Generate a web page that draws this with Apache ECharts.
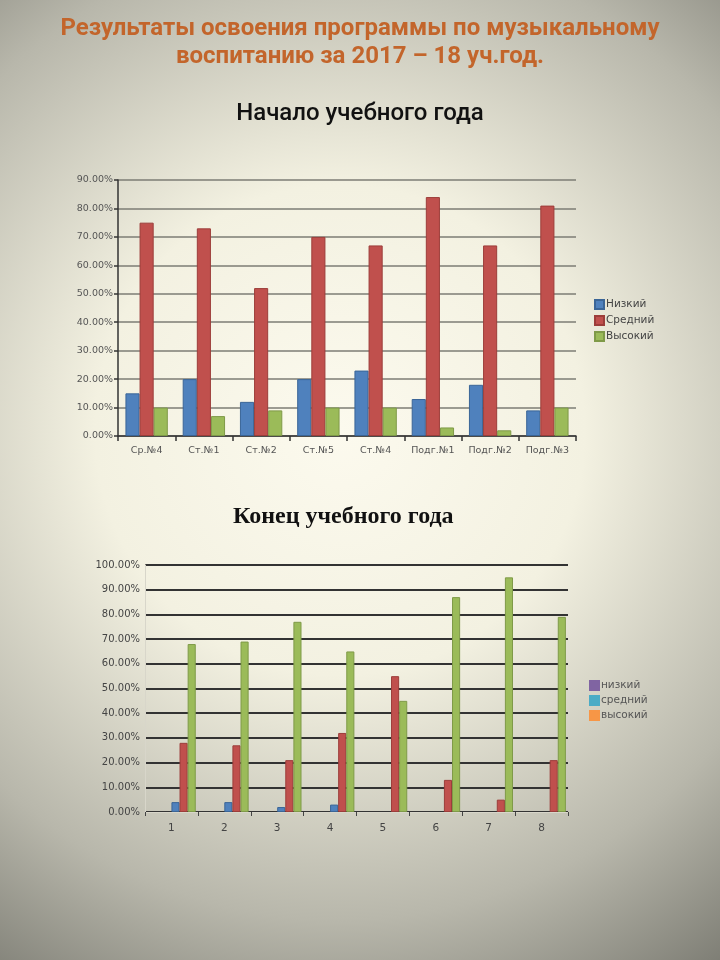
<!DOCTYPE html>
<html>
<head>
<meta charset="utf-8">
<script src="https://cdn.jsdelivr.net/npm/echarts@6/dist/echarts.min.js"></script>
<style>
html,body{margin:0;padding:0;width:720px;height:960px;overflow:hidden;}
#chart{width:720px;height:960px;}
</style>
</head>
<body>
<div id="chart"></div>
<script>
// ---- Data: top chart (start of school year) ----
var topCategories = ['Ср.№4', 'Ст.№1', 'Ст.№2', 'Ст.№5', 'Ст.№4', 'Подг.№1', 'Подг.№2', 'Подг.№3'];
var topSeriesNames = ['Низкий', 'Средний', 'Высокий'];
var topLow = [15, 20, 12, 20, 23, 13, 18, 9];
var topMid = [75, 73, 52, 70, 67, 84, 67, 81];
var topHigh = [10, 7, 9, 10, 10, 3, 2, 10];
var topTicks = [0, 10, 20, 30, 40, 50, 60, 70, 80, 90];

// ---- Data: bottom chart (end of school year) ----
var botCategories = ['1', '2', '3', '4', '5', '6', '7', '8'];
var botLegendNames = ['низкий', 'средний', 'высокий'];   // empty legend series
var botDataNames = ['Ряд 4', 'Ряд 5', 'Ряд 6'];          // series that carry the bars
var botLow = [4, 4, 2, 3, null, null, null, null];
var botMid = [28, 27, 21, 32, 55, 13, 5, 21];
var botHigh = [68, 69, 77, 65, 45, 87, 95, 79];
var botEmpty = [null, null, null, null, null, null, null, null];
var botTicks = [0, 10, 20, 30, 40, 50, 60, 70, 80, 90, 100];

var titleLine1 = 'Результаты освоения программы по музыкальному';
var titleLine2 = 'воспитанию за 2017 – 18 уч.год.';
var subTitleTop = 'Начало учебного года';
var subTitleBottom = 'Конец учебного года';

var cBlue = '#4F81BD', cRed = '#C0504D', cGreen = '#9BBB59';
var cPurple = '#8064A2', cCyan = '#4BACC6', cOrange = '#F79646';

function pct(v){ return Number(v).toFixed(2) + '%'; }

var chart = echarts.init(document.getElementById('chart'), null, {renderer:'canvas'});

function barSeries(name, data, color, border, xi, extra){
  var s = {
    name: name, type: 'bar', data: data,
    xAxisIndex: xi, yAxisIndex: xi,
    itemStyle: {color: color, borderColor: border, borderWidth: 1},
    emphasis: {disabled: true},
    animation: false
  };
  for (var k in extra) s[k] = extra[k];
  return s;
}

var option = {
  animation: false,
  backgroundColor: {
    type: 'radial', x: 340, y: 430, r: 700, global: true,
    colorStops: [
      {offset: 0, color: '#fcfaee'},
      {offset: 0.35, color: '#f3f1e1'},
      {offset: 0.7, color: '#b8b7ab'},
      {offset: 1, color: '#6e6e66'}
    ]
  },
  graphic: [
    {type:'text', left:'center', top: 17, style:{text: titleLine1, fill:'#C3652B', font:'bold 24px Roboto'}},
    {type:'text', left:'center', top: 45, style:{text: titleLine2, fill:'#C3652B', font:'bold 24px Roboto'}},
    {type:'text', left:'center', top: 102, style:{text: subTitleTop, fill:'#111', font:'500 24px Roboto'}},
    {type:'text', left: 233, top: 505, style:{text: subTitleBottom, fill:'#111', font:'bold 24px "Liberation Serif"'}}
  ],
  grid: [
    {left: 118, right: 144, top: 180, bottom: 524},
    {left: 145, right: 152, top: 565, bottom: 148}
  ],
  legend: [
    {
      data: topSeriesNames, orient: 'vertical', left: 589, top: 294,
      itemWidth: 9, itemHeight: 9, itemGap: 5, icon: 'rect',
      textStyle: {fontSize: 10.5, color: '#444', fontFamily: 'DejaVu Sans', padding:[0,0,0,-3]},
      selectedMode: false
    },
    {
      data: botLegendNames, orient: 'vertical', left: 584, top: 675,
      itemWidth: 9, itemHeight: 9, itemGap: 4, icon: 'rect',
      textStyle: {fontSize: 10.5, color: '#555', fontFamily: 'DejaVu Sans', padding:[0,0,0,-3]},
      selectedMode: false
    }
  ],
  xAxis: [
    {
      type: 'category', gridIndex: 0, data: topCategories,
      axisLine: {lineStyle: {color: '#333', width: 1.5}},
      axisTick: {show: true, length: 5, lineStyle: {color: '#333', width: 1.5}},
      axisLabel: {fontSize: 9.5, color: '#555', fontFamily: 'DejaVu Sans', margin: 10}
    },
    {
      type: 'category', gridIndex: 1, data: botCategories,
      axisLine: {lineStyle: {color: '#d8d6ca', width: 1}},
      axisTick: {show: true, length: 4, lineStyle: {color: '#444', width: 1}},
      axisLabel: {fontSize: 10.5, color: '#444', fontFamily: 'DejaVu Sans', margin: 11}
    }
  ],
  yAxis: [
    {
      type: 'value', gridIndex: 0, min: topTicks[0], max: topTicks[topTicks.length-1], interval: 10,
      axisLine: {show: true, lineStyle: {color: '#333', width: 1.5}},
      axisTick: {show: true, length: 4, lineStyle: {color: '#333', width: 1.5}},
      splitLine: {lineStyle: {color: '#7d7c74', width: 1.5}},
      axisLabel: {formatter: pct, fontSize: 9.5, color: '#555', fontFamily: 'DejaVu Sans', margin: 5}
    },
    {
      type: 'value', gridIndex: 1, min: botTicks[0], max: botTicks[botTicks.length-1], interval: 10,
      axisLine: {show: true, lineStyle: {color: '#d8d6ca', width: 1}},
      axisTick: {show: false},
      splitLine: {lineStyle: {color: '#333', width: 2}},
      axisLabel: {formatter: pct, fontSize: 10, color: '#444', fontFamily: 'DejaVu Sans', margin: 5}
    }
  ],
  series: [
    barSeries(topSeriesNames[0], topLow, cBlue, '#3a6597', 0, {barGap: '0%', barCategoryGap: '26%'}),
    barSeries(topSeriesNames[1], topMid, cRed, '#9c3d3a', 0, {}),
    barSeries(topSeriesNames[2], topHigh, cGreen, '#7f9a48', 0, {}),
    barSeries(botLegendNames[0], botEmpty, cPurple, cPurple, 1, {barGap: '0%', barCategoryGap: '8%'}),
    barSeries(botLegendNames[1], botEmpty, cCyan, cCyan, 1, {}),
    barSeries(botLegendNames[2], botEmpty, cOrange, cOrange, 1, {}),
    barSeries(botDataNames[0], botLow, cBlue, '#3a6597', 1, {}),
    barSeries(botDataNames[1], botMid, cRed, '#9c3d3a', 1, {}),
    barSeries(botDataNames[2], botHigh, cGreen, '#7f9a48', 1, {})
  ]
};
chart.setOption(option);
</script>
</body>
</html>
